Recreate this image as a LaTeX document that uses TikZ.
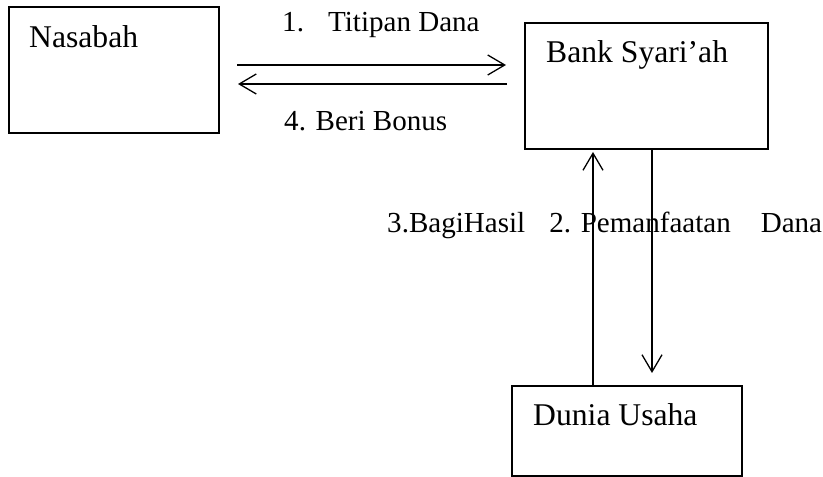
\documentclass[tikz,border=0pt]{standalone}
\usepackage{fontspec}
\setmainfont{Liberation Serif}
\usepackage{xcolor}
\usepackage{tikz}
\usetikzlibrary{calc,arrows.meta}
\definecolor{ink}{HTML}{000000}
\tikzset{
  box/.style={draw=ink, line width=1.4pt, rectangle, inner sep=0pt, outer sep=0pt},
  flow/.style={draw=ink, line width=1.3pt, -{Straight Barb[length=5.1mm,width=6mm,line width=1.1pt]}},
  boxtext/.style={text=ink, anchor=base west, inner sep=0pt, font=\fontsize{27}{32}\selectfont},
  lab/.style={text=ink, anchor=base west, inner sep=0pt, font=\fontsize{24.8}{29}\selectfont},
}
\begin{document}
\begin{tikzpicture}[x=0.3mm, y=-0.3mm]
  \useasboundingbox (0,0) rectangle (823,477);
  \node[box, minimum width=63mm, minimum height=37.8mm] (nasabah) at (114,70) {};
  \node[box, minimum width=72.9mm, minimum height=37.8mm] (bank) at (646.5,86) {};
  \node[box, minimum width=69mm, minimum height=27mm] (dunia) at (627,431) {};
  \node[boxtext] (tnasabah) at ($(nasabah.north west)+(20,41)$) {Nasabah};
  \node[boxtext] (tbank) at ($(bank.north west)+(21,40)$) {Bank Syari’ah};
  \node[boxtext] (tdunia) at ($(dunia.north west)+(21,40)$) {Dunia Usaha};
  % arus dana
  \draw[flow] ($(nasabah.north east)+(18,58)$) -- ($(bank.north west)+(-19,42)$);
  \draw[flow] ($(bank.north west)+(-18,61)$) -- ($(nasabah.north east)+(19,77)$);
  \draw[flow] ($(dunia.north west)+(81,0)$) -- ($(bank.south west)+(68,3)$);
  \draw[flow] ($(bank.south west)+(127,0)$) -- ($(dunia.north west)+(140,-13)$);
  \node[lab] (ltitip) at (282,32) {1.\hspace{0.83em}Titipan Dana};
  \node[lab] (lbonus) at (284,131) {4. Beri Bonus};
  \node[lab] (lhasil) at (387,233) {3.BagiHasil\hspace{0.83em}2. Pemanfaatan\hspace{1.03em}Dana};
\end{tikzpicture}
\end{document}
